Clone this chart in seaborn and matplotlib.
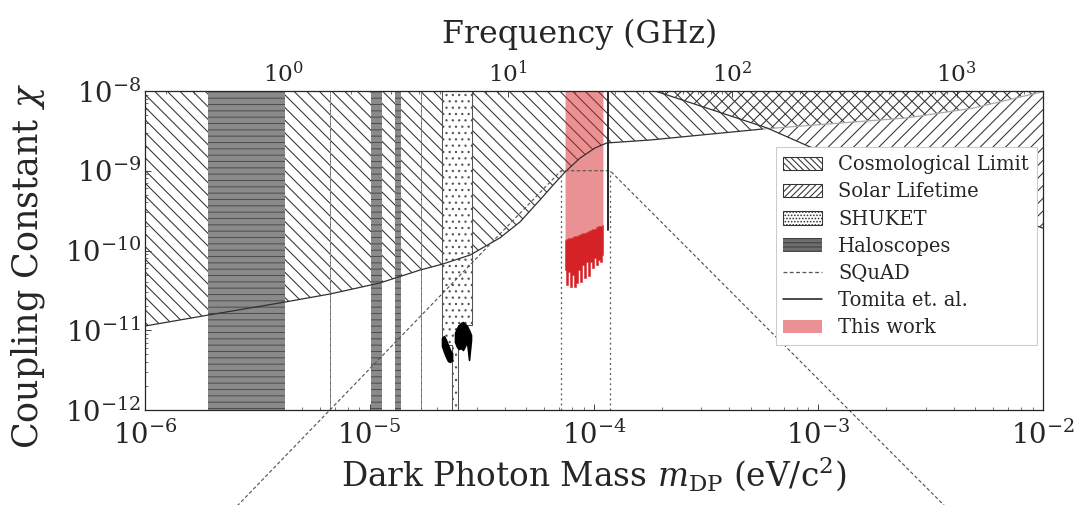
import numpy as np
import matplotlib
matplotlib.use("Agg")
import matplotlib.pyplot as plt
import seaborn as sns
from matplotlib.patches import Patch
from matplotlib.lines import Line2D

# ---- data (mass in eV/c^2, coupling chi) ----
cosmo_mass = [1.0e-6, 1.91e-6, 4.21e-6, 6.67e-6, 1.11e-5, 1.68e-5, 2.12e-5, 2.81e-5, 3.81e-5,
              4.68e-5, 5.74e-5, 6.70e-5, 7.43e-5, 8.66e-5, 1.01e-4, 1.14e-4, 1.78e-4, 5.66e-4,
              2.48e-3, 4.88e-3, 1.0e-2]
cosmo_chi = [1.13e-11, 1.55e-11, 2.26e-11, 2.85e-11, 3.91e-11, 5.69e-11, 6.77e-11, 8.79e-11, 1.44e-10,
             2.28e-10, 4.30e-10, 7.02e-10, 9.64e-10, 1.44e-9, 1.93e-9, 2.23e-9, 2.43e-9, 3.34e-9,
             4.6e-9, 6.1e-9, 9.8e-9]

solar_mass = [1.87e-4, 5.9e-4, 9.17e-4, 1.0e-2]
solar_chi = [1.0e-8, 3.44e-9, 1.99e-9, 1.91e-10]

haloscope_bands = [(1.91e-6, 4.21e-6), (6.67e-6, 6.76e-6), (1.016e-5, 1.137e-5),
                   (1.30e-5, 1.38e-5), (1.70e-5, 1.72e-5)]

shuket_mass = [2.10e-5, 2.33e-5, 2.33e-5, 2.48e-5, 2.48e-5, 2.86e-5]
shuket_low = [6.5e-12, 6.5e-12, 1.0e-12, 1.0e-12, 1.16e-11, 1.16e-11]
shuket_a_mass = [2.103e-5, 2.147e-5, 2.192e-5, 2.238e-5, 2.284e-5, 2.332e-5]
shuket_a_hi = [7.99e-12, 8.47e-12, 7.54e-12, 6.53e-12, 5.65e-12, 5.18e-12]
shuket_a_lo = [6.34e-12, 5.34e-12, 4.62e-12, 4.11e-12, 4.00e-12, 4.24e-12]
shuket_b_mass = [2.403e-5, 2.453e-5, 2.504e-5, 2.556e-5, 2.609e-5, 2.663e-5, 2.718e-5, 2.775e-5, 2.833e-5]
shuket_b_hi = [9.24e-12, 1.067e-11, 1.163e-11, 1.233e-11, 1.269e-11, 1.198e-11, 1.130e-11, 1.007e-11, 8.72e-12]
shuket_b_lo = [7.12e-12, 6.17e-12, 5.82e-12, 5.99e-12, 5.65e-12, 6.34e-12, 7.12e-12, 4.24e-12, 7.54e-12]

squad_mass = [1.37e-6, 7.13e-5, 1.18e-4, 7.0e-3]
squad_chi = [1.0e-14, 1.0e-9, 1.0e-9, 1.0e-14]
squad_edges = [7.13e-5, 1.18e-4]

tomita_mass = 1.15e-4
tomita_chi = [1.81e-10, 1.0e-8]

this_mass = [7.43e-5, 7.58e-5, 7.74e-5, 7.90e-5, 8.06e-5, 8.23e-5, 8.40e-5, 8.57e-5, 8.75e-5, 8.93e-5,
             9.12e-5, 9.31e-5, 9.50e-5, 9.69e-5, 9.90e-5, 1.010e-4, 1.031e-4, 1.053e-4, 1.075e-4, 1.096e-4]
this_upper = [1.36e-10, 1.40e-10, 1.44e-10, 1.44e-10, 1.48e-10, 1.52e-10, 1.52e-10, 1.56e-10, 1.61e-10, 1.66e-10,
              1.66e-10, 1.71e-10, 1.76e-10, 1.81e-10, 1.86e-10, 1.86e-10, 1.97e-10, 2.03e-10, 2.03e-10, 2.09e-10]
this_lower = [5.69e-11, 3.69e-11, 5.37e-11, 3.48e-11, 4.93e-11, 3.48e-11, 3.91e-11, 5.69e-11, 4.03e-11, 6.58e-11,
              4.52e-11, 7.18e-11, 4.79e-11, 7.18e-11, 6.04e-11, 8.05e-11, 6.58e-11, 7.6e-11, 7.18e-11, 8.8e-11]

freq_ticks = [1e0, 1e1, 1e2, 1e3]
GHZ_PER_EV = 1.0 / 4.1357e-6

# ---- style ----
sns.set_style("ticks")
plt.rcParams['font.family'] = ['DejaVu Serif']
plt.rcParams['mathtext.fontset'] = 'dejavuserif'
plt.rcParams['hatch.linewidth'] = 1.0
plt.rcParams['xtick.direction'] = 'in'
plt.rcParams['ytick.direction'] = 'in'

fig = plt.figure(figsize=(1080 / 76, 505 / 76), dpi=76)
ax = fig.add_axes([0.1343, 0.1881, 0.8314, 0.6317])
ax.set_xscale('log')
ax.set_yscale('log')
ax.set_xlim(1e-6, 1e-2)
ax.set_ylim(1e-12, 1e-8)

hatch_col = '#333333'
ax.fill_between(cosmo_mass, cosmo_chi, 1e-8, facecolor='none', edgecolor=hatch_col,
                hatch='\\\\', linewidth=0)
ax.fill_between(solar_mass, solar_chi, 1e-8, facecolor='none', edgecolor=hatch_col,
                hatch='//', linewidth=0)
# boundary lines: dark where visible, faint where cosmology lies inside the solar region
ax.plot(cosmo_mass[:18], cosmo_chi[:18], color='#333333', lw=1.2)
ax.plot(cosmo_mass[17:], cosmo_chi[17:], color='#aaaaaa', lw=1.2)
ax.plot(solar_mass, solar_chi, color='#333333', lw=1.2)

for lo, hi in haloscope_bands:
    ax.axvspan(lo, hi, facecolor='#8a8a8a', edgecolor='#505050', hatch='--', linewidth=0)

ax.fill_between(shuket_mass, shuket_low, 1e-8, facecolor='white', edgecolor='#555555',
                hatch='..', linewidth=1.0)
ax.fill_between(shuket_a_mass, shuket_a_lo, shuket_a_hi, color='black', lw=1.5)
ax.fill_between(shuket_b_mass, shuket_b_lo, shuket_b_hi, color='black', lw=1.5)

sns.lineplot(x=squad_mass, y=squad_chi, ax=ax, color='#555555', lw=1.1,
             linestyle=(0, (3, 2)), clip_on=False, sort=False, estimator=None)
for m in squad_edges:
    ax.plot([m, m], [1e-12, 1e-9], color='#555555', lw=1.2, linestyle=(0, (1.5, 2.5)))

ax.plot([tomita_mass, tomita_mass], tomita_chi, color='#222222', lw=1.8)

ax.fill_between(this_mass, this_upper, 1e-8, color='tab:red', alpha=0.5, lw=0)
ax.fill_between(this_mass, this_lower, this_upper, color='#d42226', lw=0.5, step='mid')

ax.tick_params(which='major', labelsize=26, length=6)
ax.tick_params(axis='x', which='major', pad=10)
ax.tick_params(which='minor', length=3)
ax.set_xlabel(r'Dark Photon Mass $m_{\mathrm{DP}}$ (eV/c$^2$)', fontsize=31, labelpad=4)
ax.set_ylabel(r'Coupling Constant $\chi$', fontsize=33)
ax.yaxis.set_label_coords(-0.109, 0.45)
for s in ax.spines.values():
    s.set_linewidth(1.2)

sec = ax.secondary_xaxis('top', functions=(lambda m: m * GHZ_PER_EV, lambda f: f / GHZ_PER_EV))
sec.set_xticks(freq_ticks)
sec.tick_params(which='major', labelsize=22, length=6, direction='in', pad=4)
sec.tick_params(which='minor', length=3, direction='in')
sec.set_xlabel('Frequency (GHz)', fontsize=30)
sec.xaxis.set_label_coords(0.4844, 1.15, transform=ax.transAxes)

handles = [
    Patch(facecolor='white', edgecolor=hatch_col, hatch='\\\\\\\\', label='Cosmological Limit'),
    Patch(facecolor='white', edgecolor=hatch_col, hatch='////', label='Solar Lifetime'),
    Patch(facecolor='white', edgecolor=hatch_col, hatch='....', label='SHUKET'),
    Patch(facecolor='#6e6e6e', edgecolor='#404040', hatch='---', lw=0, label='Haloscopes'),
    Line2D([], [], color='#555555', lw=1.2, linestyle=(0, (3, 2)), label='SQuAD'),
    Line2D([], [], color='#222222', lw=1.5, label='Tomita et. al.'),
    Patch(facecolor='tab:red', alpha=0.5, lw=0, label='This work'),
]
leg = ax.legend(handles=handles, loc='upper right', bbox_to_anchor=(0.993, 0.823),
                borderaxespad=0, fontsize=18.5, framealpha=1, fancybox=False,
                edgecolor='#cccccc', handlelength=2.0, labelspacing=0.42)

fig.savefig('out.png', dpi=76)
